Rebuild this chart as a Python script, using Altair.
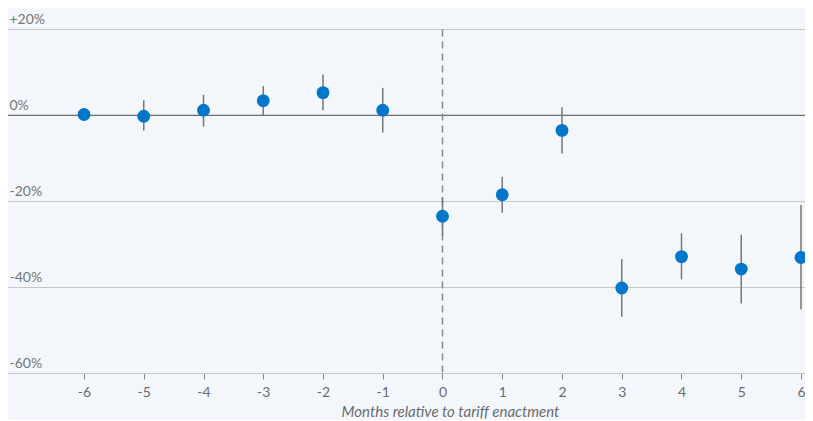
import altair as alt
import pandas as pd

months = [-6, -5, -4, -3, -2, -1, 0, 1, 2, 3, 4, 5, 6]
estimate = [0.2, -0.2, 1.2, 3.4, 5.3, 1.2, -23.5, -18.5, -3.5, -40.2, -32.9, -35.8, -33.1]
lower = [0.2, -3.5, -2.6, 0.0, 1.2, -4.0, -28.0, -22.7, -8.9, -46.9, -38.2, -43.8, -45.2]
upper = [0.2, 3.5, 4.8, 6.8, 9.5, 6.4, -19.0, -14.3, 1.9, -33.5, -27.5, -27.8, -20.9]
y_ticks = [-60, -40, -20, 0, 20]
x_ticks = months

df = pd.DataFrame({"month": months, "est": estimate, "lo": lower, "hi": upper})

FONT = "Lato"
xscale = alt.Scale(domain=[-7.272, 6.067], nice=False, zero=False)
yscale = alt.Scale(domain=[-60, 25], nice=False, zero=False)

base = alt.Chart(df)

xaxis = alt.Axis(values=x_ticks, title="Months relative to tariff enactment",
                 labelExpr="'' + datum.value",
                 titleFontStyle="italic", titleFontWeight="normal", titleFont=FONT,
                 titleFontSize=15, titleColor="#6b6b6b", titlePadding=5,
                 titleX=442, titleAlign="center",
                 labelFont=FONT, labelFontSize=14, labelColor="#6b6b6b", labelPadding=6,
                 tickColor="#8a8a8a", tickSize=6, domainColor="#c4c7ca", grid=False)

yaxis = alt.Axis(values=y_ticks, title=None, domain=False, ticks=False, tickSize=0,
                 labelExpr="(datum.value > 0 ? '+' : '') + datum.value + '%'",
                 labelAlign="left", labelBaseline="bottom", labelPadding=-1, labelOffset=-3,
                 labelFont=FONT, labelFontSize=14, labelColor="#757575",
                 grid=True, gridColor="#c4c7ca", gridWidth=1.2)

axes_layer = base.mark_point(opacity=0).encode(
    x=alt.X("month:Q", scale=xscale, axis=xaxis),
    y=alt.Y("est:Q", scale=yscale, axis=yaxis),
)

zero_df = pd.DataFrame({"z": [0]})
zero_line = alt.Chart(zero_df).mark_rule(color="#6e6e6e", strokeWidth=1.3).encode(
    y=alt.Y("z:Q", scale=yscale)
)

vline_df = pd.DataFrame({"x": [0], "y1": [20], "y2": [-60]})
vline = alt.Chart(vline_df).mark_rule(color="#8a8a8a", strokeWidth=1.5, strokeDash=[7, 5]).encode(
    x=alt.X("x:Q", scale=xscale),
    y=alt.Y("y1:Q", scale=yscale),
    y2="y2:Q",
)

errbars = base.mark_rule(color="#777777", strokeWidth=1.5).encode(
    x=alt.X("month:Q", scale=xscale),
    y=alt.Y("lo:Q", scale=yscale),
    y2="hi:Q",
)

points = base.mark_circle(color="#0077c8", size=165, opacity=1).encode(
    x=alt.X("month:Q", scale=xscale),
    y=alt.Y("est:Q", scale=yscale),
)

chart = alt.layer(axes_layer, zero_line, vline, errbars, points).properties(
    width=797, height=365, background="#f3f7fb",
    padding={"left": 0, "top": 0, "right": 0, "bottom": 47},
    autosize=alt.AutoSizeParams(type="none"),
).configure_view(stroke=None)

chart.save("out.html", embed_options={"renderer": "svg", "actions": False})
